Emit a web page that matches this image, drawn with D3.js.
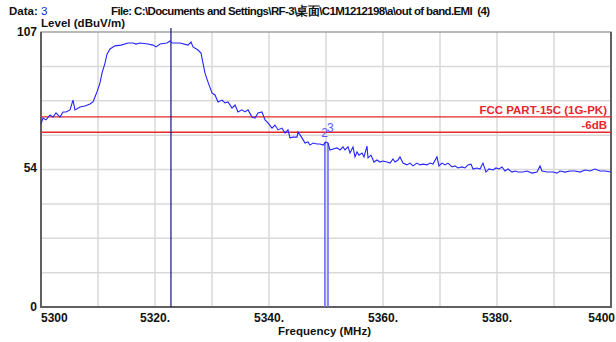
<!DOCTYPE html>
<html>
<head>
<meta charset="utf-8">
<script src="https://cdn.jsdelivr.net/npm/d3@7"></script>
<style>
  body { margin: 0; background: #fff; }
  svg { font-family: "Liberation Sans", Arial, sans-serif; font-weight: bold; }
</style>
</head>
<body>
<svg id="chart" width="616" height="342"></svg>
<script>
// trace: frequency (MHz) and level (dBuV/m)
const freqs = [5300.0, 5300.35, 5300.88, 5301.58, 5302.11, 5302.63, 5303.33, 5303.86, 5304.39, 5305.09,
  5305.61, 5305.96, 5306.84, 5307.72, 5308.6, 5309.12, 5309.47, 5309.82, 5310.35, 5310.7,
  5311.23, 5311.58, 5312.11, 5312.98, 5314.04, 5315.26, 5316.14, 5316.67, 5317.37, 5318.77,
  5319.65, 5320.18, 5320.88, 5322.11, 5322.63, 5322.98, 5324.39, 5325.79, 5326.32, 5326.67,
  5327.54, 5328.07, 5328.42, 5328.77, 5329.3, 5330.0, 5330.53, 5331.05, 5331.75, 5332.28,
  5332.81, 5333.51, 5334.04, 5334.56, 5335.26, 5335.79, 5336.32, 5337.02, 5337.54, 5338.07,
  5338.77, 5339.3, 5339.82, 5340.53, 5341.05, 5341.58, 5342.28, 5342.81, 5343.33, 5343.68,
  5344.21, 5344.91, 5345.09, 5345.79, 5346.32, 5346.84, 5347.19, 5347.72, 5348.42, 5348.95,
  5349.47, 5350.0, 5350.35, 5350.7, 5351.23, 5351.93, 5352.46, 5352.98, 5353.33, 5353.86,
  5354.21, 5354.74, 5355.09, 5355.44, 5355.79, 5356.32, 5356.67, 5357.19, 5357.37, 5357.89,
  5358.42, 5358.95, 5359.47, 5360.0, 5360.7, 5361.23, 5361.75, 5362.11, 5362.63, 5362.98,
  5363.51, 5364.21, 5364.74, 5365.26, 5365.96, 5366.49, 5367.02, 5367.72, 5368.25, 5368.77,
  5369.47, 5369.82, 5370.35, 5370.88, 5371.4, 5372.11, 5372.63, 5373.16, 5373.86, 5374.39,
  5374.91, 5375.44, 5375.79, 5376.49, 5377.02, 5377.54, 5378.07, 5378.6, 5379.3, 5379.82,
  5380.35, 5380.88, 5381.4, 5381.93, 5382.63, 5383.16, 5383.68, 5384.56, 5385.26, 5386.14,
  5387.02, 5387.54, 5387.89, 5388.77, 5389.3, 5389.82, 5390.53, 5391.05, 5391.93, 5392.81,
  5393.68, 5394.56, 5395.44, 5396.32, 5397.19, 5398.07, 5398.95, 5400.0];
const levels = [71.2, 73.5, 72.8, 74.7, 73.9, 75.5, 73.9, 75.9, 75.9, 76.7,
  80.5, 76.7, 77.8, 78.2, 79.0, 79.8, 81.7, 83.7, 87.2, 91.0,
  94.9, 98.4, 100.4, 101.6, 101.9, 102.7, 102.7, 102.3, 102.7, 102.3,
  101.9, 101.2, 102.3, 102.7, 103.5, 102.7, 102.7, 101.9, 103.1, 101.2,
  100.0, 98.8, 94.9, 91.0, 87.5, 83.3, 82.5, 79.8, 80.5, 79.4,
  79.8, 77.4, 78.6, 75.9, 76.7, 75.9, 76.7, 73.9, 73.5, 75.5,
  75.9, 72.8, 71.6, 69.6, 70.8, 68.9, 69.6, 67.7, 68.9, 65.8,
  66.1, 66.1, 68.1, 65.8, 63.8, 64.2, 63.0, 63.8, 63.4, 63.4,
  63.0, 64.2, 63.8, 61.1, 61.5, 61.9, 61.1, 62.3, 61.1, 62.3,
  59.9, 62.3, 58.4, 60.3, 59.1, 59.9, 58.4, 62.6, 58.0, 59.1,
  56.4, 57.2, 56.4, 56.8, 56.4, 56.0, 57.6, 56.4, 57.2, 58.4,
  56.0, 55.3, 56.0, 54.9, 56.0, 55.3, 55.6, 55.3, 56.0, 55.6,
  58.4, 54.9, 56.0, 55.3, 56.0, 54.5, 54.9, 54.1, 54.5, 54.1,
  55.3, 55.6, 53.7, 54.1, 53.7, 56.0, 52.5, 53.7, 53.3, 54.1,
  53.7, 54.5, 52.9, 53.7, 52.5, 52.9, 52.5, 52.5, 52.9, 52.1,
  52.5, 54.9, 52.9, 52.5, 52.5, 52.5, 52.1, 52.9, 52.5, 52.9,
  52.9, 52.5, 53.3, 52.9, 53.7, 52.9, 52.9, 52.5];

const limitLevels = [74, 68];
const limitNames = ["FCC PART-15C (1G-PK)", "-6dB"];

const markerFreqs = [5322.8, 5349.8, 5350.35];
const markerLevels = [107, 64.2, 63.8];
const markerNames = ["1", "2", "3"];

const xTicks = [5300, 5320, 5340, 5360, 5380, 5400];
const xTickLabels = ["5300", "5320.", "5340.", "5360.", "5380.", "5400"];
const yTicks = [0, 54, 107];

const pLeft = 41, pRight = 611, pTop = 32, pBottom = 307;
const svg = d3.select("#chart");

const x = d3.scaleLinear().domain([5300, 5400]).range([pLeft, pRight]);
const y = d3.scaleLinear().domain([0, 107]).range([pBottom, pTop]);

// grid
const grid = svg.append("g").attr("stroke", "#d9d9d9").attr("stroke-width", 1.5);
grid.selectAll("line.v").data(d3.range(5310, 5400, 10)).enter().append("line")
  .attr("x1", d => x(d)).attr("x2", d => x(d)).attr("y1", pTop).attr("y2", pBottom);
grid.selectAll("line.h").data(d3.range(1, 8).map(i => i * 107 / 8)).enter().append("line")
  .attr("y1", d => y(d)).attr("y2", d => y(d)).attr("x1", pLeft).attr("x2", pRight);

// frame
svg.append("rect").attr("x", pLeft).attr("y", pTop).attr("width", pRight - pLeft).attr("height", pBottom - pTop)
  .attr("fill", "none").attr("stroke", "#8a8a8a").attr("stroke-width", 1.2);
svg.append("path").attr("d", `M${pLeft},${pTop}V${pBottom}H${pRight}V${pTop}`)
  .attr("fill", "none").attr("stroke", "#606060").attr("stroke-width", 2);

// limit lines
svg.selectAll("line.limit").data(limitLevels).enter().append("line")
  .attr("x1", pLeft).attr("x2", pRight)
  .attr("y1", d => y(d)).attr("y2", d => y(d))
  .attr("stroke", "#e8262b").attr("stroke-width", 1.3);
svg.selectAll("text.limit").data(limitLevels).enter().append("text")
  .attr("x", 607).attr("y", d => y(d) - 3)
  .attr("text-anchor", "end").attr("fill", "#e8262b").attr("font-size", 11.5)
  .text((d, i) => limitNames[i]);

// marker lines
svg.append("line")
  .attr("x1", x(markerFreqs[0])).attr("x2", x(markerFreqs[0]))
  .attr("y1", y(markerLevels[0]) - 4).attr("y2", pBottom)
  .attr("stroke", "#14147a").attr("stroke-width", 1.2);
svg.selectAll("line.mk").data(markerFreqs.slice(1)).enter().append("line")
  .attr("x1", d => x(d)).attr("x2", d => x(d))
  .attr("y1", (d, i) => y(markerLevels[i + 1])).attr("y2", pBottom)
  .attr("stroke", "#6f6fff").attr("stroke-width", 1.6);

// trace
const line = d3.line().x((d, i) => x(freqs[i])).y(d => y(d));
svg.append("path").datum(levels).attr("d", line)
  .attr("fill", "none").attr("stroke", "#2424ff").attr("stroke-width", 1.1);

// marker labels
svg.append("text").attr("x", x(markerFreqs[1]) + 3).attr("y", y(markerLevels[1]) - 5)
  .attr("text-anchor", "end").attr("fill", "#5a5aff").attr("font-weight", "normal").attr("font-size", 12)
  .text(markerNames[1]);
svg.append("text").attr("x", x(markerFreqs[2]) - 1).attr("y", y(markerLevels[2]) - 11)
  .attr("fill", "#5a5aff").attr("font-weight", "normal").attr("font-size", 12)
  .text(markerNames[2]);

// axis labels
svg.selectAll("text.xt").data(xTicks).enter().append("text")
  .attr("x", (d, i) => i === xTicks.length - 1 ? 615 : x(d))
  .attr("y", 322)
  .attr("text-anchor", (d, i) => i === 0 ? "start" : (i === xTicks.length - 1 ? "end" : "middle"))
  .attr("font-size", 12).attr("fill", "#111")
  .text((d, i) => xTickLabels[i]);
svg.selectAll("text.yt").data(yTicks).enter().append("text")
  .attr("x", 37).attr("y", d => y(d) + 4)
  .attr("text-anchor", "end").attr("font-size", 12).attr("fill", "#111")
  .text(d => d);

svg.append("text").attr("x", 41).attr("y", 27).attr("font-size", 11.5).attr("fill", "#111")
  .attr("textLength", 84).text("Level (dBuV/m)");
svg.append("text").attr("x", 278).attr("y", 335).attr("font-size", 11.5).attr("fill", "#111")
  .attr("textLength", 93).text("Frequency (MHz)");

// header
const hdr = svg.append("text").attr("x", 9).attr("y", 15).attr("font-size", 11.5).attr("fill", "#111");
hdr.append("tspan").text("Data: ");
hdr.append("tspan").attr("fill", "#2020e0").attr("font-weight", "normal").text("3");
svg.append("text").attr("x", 111).attr("y", 15).attr("font-size", 11.5).attr("fill", "#111")
  .attr("textLength", 379)
  .text("File: C:\\Documents and Settings\\RF-3\\桌面\\C1M1212198\\a\\out of band.EMI\u00a0\u00a0(4)");
</script>
</body>
</html>
